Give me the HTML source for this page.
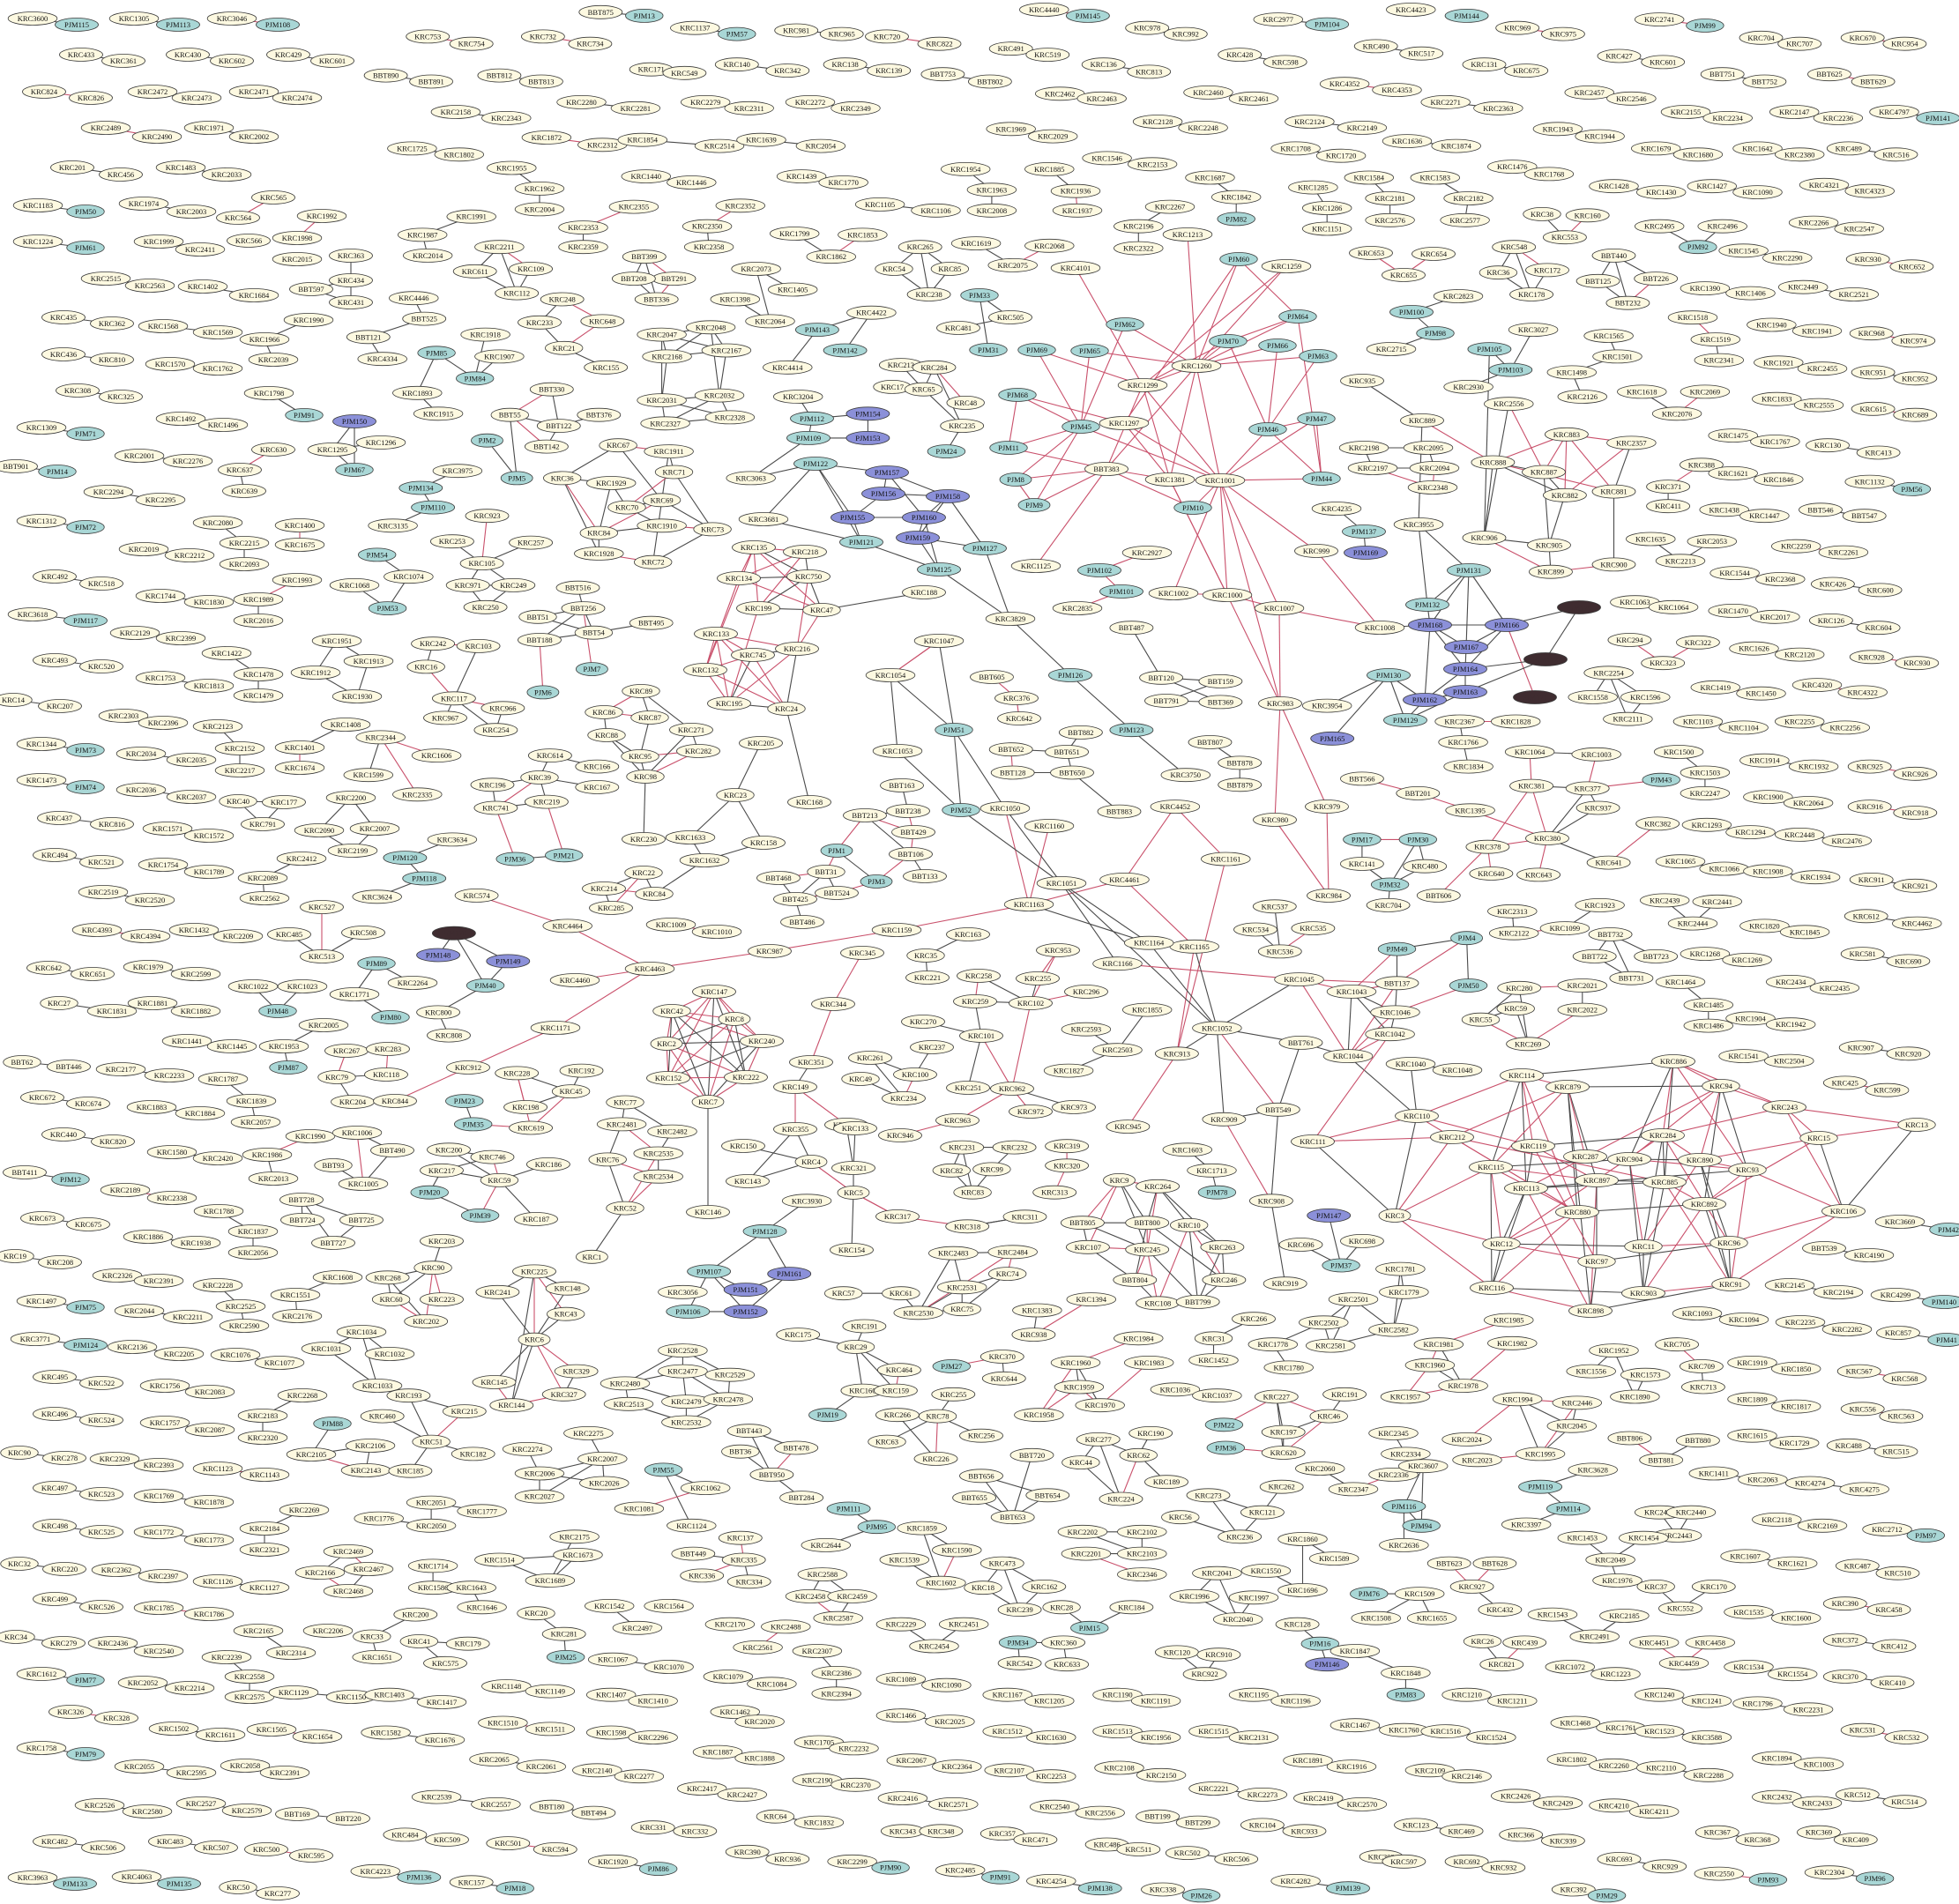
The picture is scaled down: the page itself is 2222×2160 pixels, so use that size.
<!DOCTYPE html>
<html>
<head>
<meta charset="utf-8">
<style>
html,body{margin:0;padding:0;background:#fff;}
svg{display:block;}
text{font-family:"Liberation Serif",serif;font-size:8.5px;fill:#111;}
</style>
</head>
<body>
<svg id="g" width="2222" height="2160" viewBox="0 0 2222 2160">
<rect width="2222" height="2160" fill="#ffffff"/>
<g id="edges"></g>
<g id="nodes"></g>
</svg>
<script>
// coordinate systems: [x0, sx, sy]
const SYS = {R:[0,1,1], B:[400,2.524,0.7245], C:[1010,2.524,0.7245], D:[1600,2.516,0.7245]};

// groups: [system, nodes [label,x,y,type], edge spec]
const groups = [
["R",[["KRC3600",37,21],["PJM115",87,28,"t"]],"0-1"],
["R",[["KRC1305",152,21],["PJM113",202,28,"t"]],"0-1"],
["R",[["KRC3046",263,21],["PJM108",315,28,"t"]],"0-1r"],
["R",[["KRC433",92,62],["KRC361",140,69]],"0-1"],
["R",[["KRC430",213,62],["KRC602",263,69]],"0-1"],
["R",[["KRC429",327,62],["KRC601",377,69]],"0-1"],
["R",[["KRC824",50,104],["KRC826",103,111]],"0-1r"],
["R",[["KRC2472",173,104],["KRC2473",223,111]],"0-1"],
["R",[["KRC2471",288,104],["KRC2474",337,111]],"0-1"],
["R",[["KRC2489",120,145],["KRC2490",178,155]],"0-1r"],
["R",[["KRC1971",237,145],["KRC2002",288,155]],"0-1"],
["R",[["KRC201",82,190],["KRC456",137,198]],"0-1"],
["R",[["KRC1483",205,190],["KRC2033",257,198]],"0-1"],
["R",[["KRC1183",43,233],["PJM50",97,240,"t"]],"0-1"],
["R",[["KRC1974",163,231],["KRC2003",217,240]],"0-1"],
["R",[["KRC565",310,224],["KRC564",270,247],["KRC566",282,273]],"0-1r"],
["R",[["KRC1224",43,274],["PJM61",97,281,"t"]],"0-1"],
["R",[["KRC1999",180,274],["KRC2411",227,283]],"0-1"],
["R",[["KRC1992",365,245],["KRC1998",337,270],["KRC2015",337,294]],"0-1r"],
["R",[["KRC2515",120,316],["KRC2563",170,324]],"0-1"],
["R",[["KRC1402",230,325],["KRC1684",288,335]],"0-1"],
["R",[["KRC363",398,290],["KRC434",398,318],["BBT597",353,328],["KRC431",398,343]],"0-1,1-2,2-3,1-3"],
["R",[["KRC435",72,360],["KRC362",127,367]],"0-1"],
["R",[["KRC1568",185,370],["KRC1569",247,377]],"0-1"],
["R",[["KRC1990",350,363],["KRC1966",300,385],["KRC2039",310,408]],"0-1,1-2"],
["R",[["KRC436",72,402],["KRC810",127,408]],"0-1"],
["R",[["KRC1570",193,413],["KRC1762",247,418]],"0-1"],
["R",[["KRC308",88,443],["KRC325",137,450]],"0-1"],
["R",[["KRC1798",305,446],["PJM91",345,471,"t"]],"0-1"],
["R",[["KRC1309",47,485],["PJM71",97,492,"t"]],"0-1"],
["R",[["KRC1492",205,475],["KRC1496",253,482]],"0-1"],
["R",[["BBT901",18,529],["PJM14",65,535,"t"]],"0-1"],
["R",[["KRC2001",158,517],["KRC2276",213,523]],"0-1"],
["R",[["KRC630",310,510],["KRC637",272,533],["KRC639",277,557]],"0-1r,1-2"],
["R",[["PJM150",402,478,"u"],["KRC1295",377,510],["KRC1296",432,502],["PJM67",402,533,"t"]],"0-1,0-3,1-2,1-3"],
["R",[["KRC2294",123,558],["KRC2295",182,567]],"0-1"],
["R",[["KRC1312",47,591],["PJM72",97,598,"t"]],"0-1"],
["R",[["KRC2080",247,593],["KRC2215",277,616],["KRC2093",277,640]],"0-1,1-2"],
["R",[["KRC1400",340,596],["KRC1675",340,618]],"0-1r"],
["R",[["KRC2019",163,623],["KRC2212",215,630]],"0-1"],
["R",[["KRC492",62,654],["KRC518",115,662]],"0-1"],
["R",[["KRC1744",182,676],["KRC1830",237,683]],"0-1"],
["R",[["KRC1993",337,658],["KRC1989",293,680],["KRC2016",293,704]],"0-1r,1-2"],
["R",[["KRC3618",37,697],["PJM117",97,704,"t"]],"0-1"],
["R",[["KRC2129",153,718],["KRC2399",205,724]],"0-1"],
["R",[["KRC493",62,749],["KRC520",115,756]],"0-1"],
["R",[["KRC1753",182,769],["KRC1813",237,778]],"0-1"],
["R",[["KRC1422",257,741],["KRC1478",293,765],["KRC1479",293,789]],"0-1,1-2"],
["R",[["KRC1951",382,727],["KRC1912",358,763],["KRC1913",418,750],["KRC1930",405,790]],"0-1,0-2,1-3,2-3"],
["R",[["KRC14",15,794],["KRC207",68,801]],"0-1"],
["R",[["KRC2303",140,812],["KRC2396",185,820]],"0-1"],
["R",[["KRC2123",247,824],["KRC2152",272,849],["KRC2217",272,874]],"0-1,1-2"],
["R",[["KRC1408",392,822],["KRC1401",340,848],["KRC1674",340,871]],"0-1,1-2r"],
["R",[["KRC1344",47,844],["PJM73",97,851,"t"]],"0-1"],
["R",[["KRC2034",160,855],["KRC2035",217,862]],"0-1"],
["R",[["KRC1473",47,885],["PJM74",97,893,"t"]],"0-1"],
["R",[["KRC2036",160,896],["KRC2037",217,904]],"0-1"],
["R",[["KRC40",270,909],["KRC177",322,910],["KRC791",298,935]],"0-1,0-2,1-2"],
["R",[["KRC2200",398,905],["KRC2090",362,942],["KRC2007",425,940],["KRC2199",400,965]],"0-1,0-2,1-3,2-3"],
["R",[["KRC437",67,928],["KRC816",127,935]],"0-1"],
["R",[["KRC1571",190,940],["KRC1572",237,948]],"0-1"],
["R",[["KRC494",62,970],["KRC521",115,978]],"0-1"],
["R",[["KRC1754",185,981],["KRC1789",237,989]],"0-1"],
["R",[["KRC2412",342,974],["KRC2089",298,996],["KRC2562",300,1019]],"0-1,1-2"],
["R",[["KRC2519",117,1012],["KRC2520",170,1021]],"0-1"],
["R",[["KRC527",365,1029],["KRC485",328,1060],["KRC513",365,1085],["KRC508",412,1058]],"0-2r,1-2,2-3"],
["R",[["KRC4393",110,1055],["KRC4394",165,1062]],"0-1r"],
["R",[["KRC1432",220,1055],["KRC2209",270,1062]],"0-1"],
["R",[["KRC642",55,1098],["KRC651",105,1105]],"0-1"],
["R",[["KRC1979",168,1097],["KRC2599",222,1105]],"0-1"],
["R",[["KRC1022",287,1119],["KRC1023",343,1119],["PJM48",315,1147,"t"]],"0-2,1-2"],
["R",[["PJM89",427,1093,"t"],["KRC2264",468,1115],["KRC1771",402,1128],["PJM80",443,1154,"t"]],"0-1,0-2,2-3"],
["R",[["KRC27",67,1138],["KRC1831",127,1147]],"0-1"],
["R",[["KRC1881",173,1138],["KRC1882",222,1147]],"0-1"],
["R",[["KRC2005",367,1163],["KRC1953",322,1187],["PJM87",327,1211,"t"]],"0-1,1-2"],
["R",[["KRC1441",212,1181],["KRC1445",263,1187]],"0-1"],
["R",[["KRC267",393,1192],["KRC283",440,1190],["KRC79",382,1222],["KRC118",438,1219],["KRC204",400,1250]],"0-1,0-2r,1-3r,2-3,2-4"],
["R",[["BBT62",25,1205],["BBT446",78,1210]],"0-1"],
["R",[["KRC2177",137,1213],["KRC2233",192,1220]],"0-1"],
["R",[["KRC1787",253,1224],["KRC1839",285,1249],["KRC2057",290,1273]],"0-1,1-2"],
["R",[["KRC672",48,1245],["KRC674",100,1252]],"0-1"],
["R",[["KRC1883",172,1256],["KRC1884",227,1263]],"0-1"],
["R",[["KRC440",72,1287],["KRC820",128,1295]],"0-1"],
["R",[["KRC1580",195,1307],["KRC2420",247,1314]],"0-1"],
["R",[["KRC1990",352,1289],["KRC1986",303,1310],["KRC2013",310,1337]],"0-1r,1-2"],
["R",[["KRC1006",405,1285],["BBT490",445,1305],["BBT93",378,1322],["KRC1005",412,1343]],"0-1,0-3r,2-3,1-3"],
["R",[["BBT411",28,1330],["PJM12",80,1338,"t"]],"0-1"],
["R",[["KRC2189",142,1350],["KRC2338",195,1359]],"0-1r"],
["R",[["KRC673",48,1382],["KRC675",100,1389]],"0-1"],
["R",[["KRC1788",248,1374],["KRC1837",287,1397],["KRC2056",287,1421]],"0-1,1-2"],
["R",[["BBT728",342,1361],["BBT724",343,1384],["BBT725",410,1384],["BBT727",378,1410]],"0-1,0-3,0-2,2-3"],
["R",[["KRC19",17,1425],["KRC208",68,1432]],"0-1"],
["R",[["KRC1886",168,1403],["KRC1938",222,1410]],"0-1"],
["R",[["KRC1497",47,1476],["PJM75",97,1483,"t"]],"0-1"],
["R",[["KRC2326",133,1447],["KRC2391",180,1453]],"0-1"],
["R",[["KRC2228",247,1458],["KRC2525",273,1482],["KRC2590",277,1504]],"0-1,1-2"],
["R",[["KRC1608",383,1449],["KRC1551",335,1469],["KRC2176",337,1493]],"0-1,1-2"],
["R",[["KRC2044",158,1487],["KRC2211",213,1494]],"0-1"],
["R",[["KRC1034",410,1511],["KRC1031",370,1530],["KRC1032",442,1536],["KRC1033",428,1572]],"0-1,0-2,0-3,1-3"],
["R",[["KRC3771",40,1519],["PJM124",97,1526,"t"]],"0-1"],
["R",[["KRC2136",150,1528],["KRC2205",203,1536]],"0-1"],
["R",[["KRC1076",267,1537],["KRC1077",317,1546]],"0-1"],
["R",[["KRC495",62,1562],["KRC522",115,1569]],"0-1"],
["R",[["KRC1756",187,1572],["KRC2083",238,1579]],"0-1"],
["R",[["KRC2268",343,1583],["KRC2183",298,1606],["KRC2320",298,1631]],"0-1,1-2"],
["R",[["KRC496",62,1604],["KRC524",115,1611]],"0-1"],
["R",[["KRC1757",187,1614],["KRC2087",238,1622]],"0-1"],
["R",[["PJM88",377,1615,"t"],["KRC2105",353,1650],["KRC2106",420,1640],["KRC2143",415,1668]],"0-1,1-2,1-3r,2-3"],
["R",[["KRC90",22,1648],["KRC278",73,1654]],"0-1"],
["R",[["KRC2329",130,1655],["KRC2393",180,1662]],"0-1"],
["R",[["KRC1123",247,1666],["KRC1143",300,1673]],"0-1r"],
["R",[["KRC497",62,1688],["KRC523",115,1695]],"0-1"],
["R",[["KRC1769",180,1697],["KRC1878",237,1704]],"0-1"],
["R",[["KRC2269",345,1713],["KRC2184",300,1734],["KRC2321",300,1758]],"0-1,1-2"],
["R",[["KRC498",62,1731],["KRC525",115,1738]],"0-1"],
["R",[["KRC1772",180,1738],["KRC1773",237,1747]],"0-1"],
["R",[["KRC2469",395,1760],["KRC2166",363,1784],["KRC2467",418,1780],["KRC2468",395,1805]],"0-1,0-2r,1-3r,2-3"],
["R",[["KRC32",22,1774],["KRC220",73,1780]],"0-1"],
["R",[["KRC2362",132,1781],["KRC2397",185,1788]],"0-1"],
["R",[["KRC1126",247,1794],["KRC1127",300,1801]],"0-1"],
["R",[["KRC499",62,1814],["KRC526",115,1823]],"0-1"],
["R",[["KRC1785",180,1824],["KRC1786",237,1831]],"0-1r"],
["R",[["KRC34",18,1857],["KRC279",72,1864]],"0-1"],
["R",[["KRC2436",128,1864],["KRC2540",180,1873]],"0-1"],
["R",[["KRC2165",293,1850],["KRC2314",330,1875]],"0-1"],
["R",[["KRC2206",372,1850]],""],
["R",[["KRC2239",257,1880],["KRC2558",283,1902],["KRC2575",283,1925]],"0-1,1-2"],
["R",[["KRC1612",47,1899],["PJM77",97,1906,"t"]],"0-1"],
["R",[["KRC2052",162,1909],["KRC2214",215,1915]],"0-1"],
["R",[["KRC1129",333,1920],["KRC1150",398,1925]],"0-1"],
["R",[["KRC326",80,1942],["KRC328",132,1949]],"0-1r"],
["R",[["KRC1502",197,1961],["KRC1611",250,1968]],"0-1"],
["R",[["KRC1505",308,1962],["KRC1654",360,1970]],"0-1r"],
["R",[["KRC1758",47,1983],["PJM79",97,1990,"t"]],"0-1"],
["R",[["KRC2055",158,2004],["KRC2595",217,2011]],"0-1"],
["R",[["KRC2058",278,2003],["KRC2391",323,2011]],"0-1"],
["R",[["KRC2526",113,2048],["KRC2580",167,2055]],"0-1"],
["R",[["KRC2527",228,2046],["KRC2579",280,2054]],"0-1"],
["R",[["BBT169",337,2058],["BBT220",395,2063]],"0-1"],
["R",[["KRC482",62,2089],["KRC506",117,2096]],"0-1"],
["R",[["KRC483",193,2089],["KRC507",245,2096]],"0-1"],
["R",[["KRC500",302,2098],["KRC595",353,2105]],"0-1r"],
["R",[["KRC3963",37,2130],["PJM133",85,2137,"t"]],"0-1"],
["R",[["KRC4063",155,2129],["PJM135",203,2137,"t"]],"0-1"],
["R",[["KRC50",270,2141],["KRC277",315,2148]],"0-1"],
["B",[["BBT875",710,10],["PJM13",835,13,"t"]],"0-1"],
["B",[["KRC753",215,30],["KRC754",340,36]],"0-1r"],
["B",[["KRC732",545,30],["KRC734",680,36]],"0-1r"],
["B",[["BBT890",95,62],["BBT891",225,67]],"0-1"],
["B",[["BBT812",420,62],["BBT813",540,67]],"0-1"],
["B",[["KRC2158",295,92],["KRC2343",440,97]],"0-1"],
["B",[["KRC1725",170,122],["KRC1802",305,127]],"0-1"],
["B",[["KRC1955",455,138],["KRC1962",535,155],["KRC2004",535,172]],"0-1,1-2"],
["B",[["KRC1991",340,178],["KRC1987",200,193],["KRC2014",215,210]],"0-1,1-2"],
["B",[["KRC2211",420,203],["KRC611",350,223],["KRC109",510,221],["KRC112",470,241]],"0-1,0-2r,1-3,0-3,2-3"],
["B",[["KRC4446",175,245],["BBT525",205,262],["BBT121",45,277],["KRC4334",85,295]],"0-1,1-2,2-3"],
["B",[["KRC1918",380,275],["PJM85",240,290,"t"],["KRC1907",420,293],["PJM84",350,311,"t"],["KRC1893",185,323],["KRC1915",245,340]],"0-3,2-3,1-3,1-4,4-5"],
["B",[["KRC248",600,246],["KRC233",535,265],["KRC648",715,264],["KRC21",605,286],["KRC155",725,302]],"0-1,0-2r,1-3,3-2r,3-4"],
["B",[["BBT330",570,320],["BBT55",450,341],["BBT122",590,350],["BBT376",705,341],["BBT142",555,367],["PJM2",385,362,"t"],["PJM5",470,393,"t"]],"0-1r,0-2,1-2,1-4r,2-3,4-2,1-6,5-6"],
["B",[["PJM134",195,401,"t"],["KRC3975",300,387],["PJM110",230,417,"t"],["KRC3135",115,432]],"0-1,0-2,2-3"],
["B",[["KRC67",760,366],["KRC36",600,393],["KRC1929",740,397],["KRC1911",905,371],["KRC71",920,388],["KRC70",785,417],["KRC69",885,411],["KRC84",705,438],["KRC1910",885,432],["KRC1928",705,455],["KRC73",1030,435],["KRC72",860,462]],"0-1,0-3r,0-6,1-2,1-7r,1-9,2-5,2-7,3-4,3-11,4-10,4-5r,5-6,5-8,6-7r,7-8,7-9,8-10r,9-11r,10-11,6-10"],
["B",[["KRC923",385,424],["KRC253",285,445],["KRC105",370,463],["KRC257",510,446],["KRC971",330,481],["KRC249",460,481],["KRC250",380,499]],"0-2r,1-2,2-3,2-4,2-5,4-6,5-6,4-5"],
["B",[["BBT516",645,483],["BBT256",660,500],["BBT51",530,507],["BBT54",690,520],["BBT188",535,526],["BBT495",855,512],["PJM6",545,569,"t"],["PJM7",685,550,"t"]],"0-1,1-2,1-3,1-4,2-3,3-4,3-5,4-6r,1-7r"],
["B",[["KRC242",230,529],["KRC103",360,531],["KRC16",210,548],["KRC117",290,574],["KRC966",430,582],["KRC967",265,590],["KRC254",410,600]],"0-1r,0-2,1-3,2-3r,3-4r,3-5,3-6,4-6"],
["B",[["PJM54",70,456,"t"],["KRC1074",160,474],["KRC1068",5,481],["PJM53",100,500,"t"]],"0-1,1-3,2-3"],
["B",[["KRC2344",80,606],["KRC1606",240,621],["KRC1599",45,637],["KRC2335",185,653]],"0-1r,0-3r,0-2"],
["B",[["KRC614",565,621],["KRC166",700,630],["KRC196",400,645],["KRC39",535,639],["KRC167",700,647],["KRC741",410,664],["KRC219",555,659],["PJM36",465,706,"t"],["PJM21",605,703,"t"]],"0-1,0-3,3-4,2-3,3-5r,5-6,3-6,5-7r,6-8r,2-5,7-8"],
["B",[["KRC3634",285,690],["PJM120",150,705,"t"],["PJM118",205,722,"t"],["KRC3624",70,737]],"0-1,1-2,2-3"],
["R",[["KRC89",727,784],["KRC86",685,808],["KRC87",737,814],["KRC271",784,828],["KRC88",688,834],["KRC282",792,852],["KRC95",726,858],["KRC98",732,881],["KRC230",730,952]],"0-1r,0-2,0-3,1-4,1-2r,2-6,4-6,4-7,3-5,6-5r,7-5r,6-7,7-3,7-8"],
["R",[["KRC135",855,621],["KRC218",913,626],["KRC134",838,656],["KRC750",917,654],["KRC199",860,690],["KRC47",932,692],["KRC133",812,719],["KRC745",854,743],["KRC216",904,736],["KRC132",800,760],["KRC195",827,798],["KRC24",892,804],["KRC188",1048,672],["KRC168",918,910]],"0-1r,0-2r,0-3,0-4r,0-5r,1-2r,1-3,1-4r,2-3,2-5r,3-4,4-5,3-5,3-8r,5-8r,6-7r,6-9r,6-10r,6-8r,7-8k,7-9r,7-11r,8-10r,8-11,9-10r,9-11r,10-11,0-9r,2-9r,4-10r,5-12,11-13,7-10,6-11r"],
["R",[["KRC205",863,843],["KRC23",834,902],["KRC158",866,956],["KRC1633",783,950],["KRC1632",799,976],["KRC22",730,990],["KRC214",685,1008],["KRC84",742,1014],["KRC285",693,1030]],"0-1,1-3,1-2,2-4,3-4,4-7,5-7,5-8r,6-7r,6-8,5-6"],
["R",[["KRC1009",761,1049],["KRC1010",813,1057]],"0-1r"],
["B",[["KRC574",355,736],["KRC4464",615,761]],"0-1r"],
["R",[["KRC4463",737,1099],["KRC4460",652,1112],["KRC987",873,1079],["KRC1171",630,1166],["KRC912",531,1211],["KRC844",448,1249],["KRC1159",1017,1055]],"0-1r,0-2r,0-3r,3-4r,4-5r,2-6r"],
["B",[["PJM170",290,767,"d"],["PJM148",245,785,"u"],["PJM149",445,790,"u"],["PJM40",380,810,"t"],["KRC800",245,832],["KRC808",275,851]],"0-1,0-2,0-3,3-4,4-5,2-3"],
["R",[["KRC147",810,1125],["KRC42",762,1147],["KRC8",833,1156],["KRC2",756,1184],["KRC240",864,1181],["KRC152",758,1223],["KRC222",846,1222],["KRC7",803,1250],["KRC146",803,1375]],"0-1r,0-2r,0-3r,0-4r,0-5r,0-6,0-7,1-2r,1-3r,1-4r,1-5,1-6,1-7,2-3,2-4r,2-5r,2-6,2-7r,3-4,3-5r,3-6r,3-7r,4-5,4-6r,4-7,5-6r,5-7r,6-7r,7-8"],
["B",[["KRC228",470,882],["KRC192",655,880],["KRC45",625,897],["KRC198",495,910],["KRC619",510,927],["PJM23",320,905,"t"],["PJM35",345,924,"t"]],"0-3r,0-4r,0-2,3-2,4-2r,1-2,5-6,6-4r"],
["B",[["KRC200",275,945],["KRC746",400,951],["KRC217",255,962],["KRC59",420,970],["KRC186",560,957],["PJM20",220,980,"t"],["PJM39",365,999,"t"],["KRC187",525,1002]],"0-1,0-3,1-2,1-3r,2-3,3-4,3-6r,5-6,3-7,2-5"],
["B",[["KRC77",780,906],["KRC2481",770,924],["KRC2482",915,930],["KRC76",730,953],["KRC2535",875,948],["KRC2534",875,967],["KRC52",780,993],["KRC1",685,1033]],"0-1,0-2,1-3,1-4r,3-5r,3-6,4-5,5-6r,4-6r,6-7,2-4"],
["B",[["KRC203",255,1020],["KRC268",100,1050],["KRC90",230,1042],["KRC60",110,1068],["KRC223",255,1068],["KRC202",210,1086]],"0-2,1-2,1-3,2-3,2-4r,2-5r,3-5r,1-5"],
["B",[["KRC225",520,1045],["KRC241",415,1062],["KRC148",615,1059],["KRC43",610,1080],["KRC6",520,1101],["KRC329",640,1127],["KRC145",405,1136],["KRC327",605,1146],["KRC144",455,1155]],"0-1,0-2,0-4r,0-3r,1-4,2-4,3-4,4-5r,4-6,4-7r,4-8,5-7,6-8r,8-7r,0-8"],
["B",[["KRC193",160,1147],["KRC215",320,1160],["KRC460",85,1164],["KRC51",225,1185],["KRC182",345,1195],["KRC185",165,1209]],"0-1,0-3,1-3r,2-3,3-4,3-5"],
["B",[["KRC2051",225,1235],["KRC1776",75,1248],["KRC2050",225,1254],["KRC1777",370,1242]],"0-2,1-2,0-3"],
["B",[["KRC2528",945,1110],["KRC2480",780,1137],["KRC2477",945,1127],["KRC2529",1080,1130],["KRC2513",790,1154],["KRC2479",955,1152],["KRC2478",1075,1150],["KRC2532",955,1169]],"0-2,0-3,1-2,1-4,1-5,2-5,2-6,3-6,4-7,5-7,6-7,1-0"],
["B",[["KRC2275",675,1178],["KRC2274",500,1191],["KRC2007",715,1199],["KRC2006",535,1211],["KRC2026",720,1219],["KRC2027",535,1230]],"0-2,1-3,2-3,2-4,2-5,3-5,3-4"],
["B",[["BBT443",1135,1176],["BBT478",1270,1190],["BBT36",1110,1193],["BBT950",1200,1212],["BBT284",1285,1231]],"0-1,0-3,1-3r,2-3,3-4"],
["B",[["PJM55",890,1208,"t"],["KRC1062",1010,1223],["KRC1081",820,1240],["KRC1124",970,1254]],"0-1,0-3,1-2r"],
["B",[["KRC2175",635,1263],["KRC1514",420,1282],["KRC1673",645,1278],["KRC1689",565,1299]],"0-3,1-3,2-3,1-2"],
["B",[["KRC1714",230,1287],["KRC1586",230,1305],["KRC1643",340,1305],["KRC1646",370,1321]],"0-1,1-2,2-3"],
["B",[["KRC137",1110,1264],["BBT449",975,1277],["KRC335",1120,1282],["KRC336",1000,1295],["KRC334",1135,1300]],"0-2r,1-2,2-3r,2-4"],
["B",[["KRC2588",1345,1294],["KRC2458",1310,1312],["KRC2459",1430,1312],["KRC2587",1390,1330]],"0-1,0-2,1-3r,2-3,1-2r"],
["B",[["KRC200",180,1327],["KRC33",55,1345],["KRC1651",70,1362]],"0-1,1-2"],
["B",[["KRC41",190,1349],["KRC179",330,1351],["KRC575",265,1367]],"0-1,0-2"],
["B",[["KRC20",525,1326],["KRC281",605,1343],["PJM25",610,1362,"t"]],"0-1,1-2"],
["B",[["KRC1542",735,1320],["KRC2497",815,1338]],"0-1"],
["B",[["KRC1564",905,1320]],""],
["B",[["KRC2170",1080,1335],["KRC2488",1240,1337],["KRC2561",1160,1354]],"1-2r"],
["B",[["KRC1067",745,1364],["KRC1070",905,1370]],"0-1"],
["B",[["KRC2307",1330,1357],["KRC2386",1385,1375],["KRC2394",1385,1392]],"0-1,1-2"],
["B",[["KRC1403",105,1393],["KRC1417",255,1399]],"0-1"],
["B",[["KRC1148",440,1386],["KRC1149",565,1390]],"0-1"],
["B",[["KRC1407",740,1393],["KRC1410",860,1398]],"0-1"],
["B",[["KRC1079",1075,1378],["KRC1084",1200,1384]],"0-1"],
["B",[["KRC1582",95,1424],["KRC1676",250,1430]],"0-1"],
["B",[["KRC1510",430,1416],["KRC1511",565,1421]],"0-1r"],
["B",[["KRC1598",740,1424],["KRC2296",860,1428]],"0-1"],
["B",[["KRC1462",1095,1407],["KRC2020",1165,1415]],"0-1"],
["B",[["KRC1705",1335,1432],["KRC2232",1435,1437]],"0-1"],
["B",[["KRC2065",405,1446],["KRC2061",540,1452]],"0-1"],
["B",[["KRC2140",700,1455],["KRC2277",820,1460]],"0-1"],
["B",[["KRC1887",1045,1440],["KRC1888",1165,1445]],"0-1"],
["B",[["KRC2190",1330,1463],["KRC2370",1440,1467]],"0-1"],
["B",[["KRC2539",240,1477],["KRC2557",410,1483]],"0-1"],
["B",[["BBT180",570,1485],["BBT494",690,1490]],"0-1"],
["B",[["KRC2417",1000,1470],["KRC2427",1115,1475]],"0-1"],
["B",[["KRC484",150,1508],["KRC509",270,1512]],"0-1"],
["B",[["KRC501",445,1515],["KRC594",580,1520]],"0-1r"],
["B",[["KRC331",860,1502],["KRC332",980,1505]],"0-1"],
["B",[["KRC64",1210,1493],["KRC1832",1335,1498]],"0-1"],
["B",[["KRC4223",65,1538],["PJM136",190,1543,"t"]],"0-1"],
["B",[["KRC157",340,1547],["PJM18",465,1552,"t"]],"0-1"],
["B",[["KRC1920",745,1530],["PJM86",875,1536,"t"]],"0-1"],
["B",[["KRC390",1130,1522],["KRC936",1245,1528]],"0-1"],
["B",[["KRC2299",1430,1530],["PJM90",1540,1535,"t"]],"0-1"],
["B",[["KRC1137",980,23],["PJM57",1100,28,"t"]],"0-1"],
["B",[["KRC981",1270,25],["KRC965",1400,28]],"0-1"],
["B",[["KRC171",855,57],["KRC549",950,60]],"0-1"],
["B",[["KRC140",1100,53],["KRC342",1245,58]],"0-1"],
["B",[["KRC138",1410,53],["KRC139",1535,58]],"0-1"],
["B",[["KRC2280",655,84],["KRC2281",810,89]],"0-1"],
["B",[["KRC2279",1010,84],["KRC2311",1135,89]],"0-1"],
["B",[["KRC2272",1310,84],["KRC2349",1440,89]],"0-1"],
["B",[["KRC1872",555,113],["KRC2312",715,119]],"0-1r"],
["B",[["KRC1854",830,115],["KRC2514",1050,120]],"0-1"],
["B",[["KRC1639",1170,115],["KRC2054",1340,120]],"0-1"],
["B",[["KRC1440",840,145],["KRC1446",970,150]],"0-1"],
["B",[["KRC1439",1285,145],["KRC1770",1405,150]],"0-1"],
["B",[["KRC2355",805,170],["KRC2353",660,187],["KRC2359",660,203]],"0-1r,1-2"],
["B",[["KRC2352",1110,169],["KRC2350",1015,186],["KRC2358",1020,203]],"0-1r,1-2"],
["B",[["KRC1799",1265,192],["KRC1862",1370,211],["KRC1853",1460,193]],"0-1,1-2r"],
["B",[["BBT399",835,211],["BBT291",920,229],["BBT208",805,229],["BBT336",870,246]],"0-1r,0-2,0-3,1-3r,2-3"],
["B",[["KRC2073",1155,221],["KRC1405",1260,238],["KRC1398",1095,246],["KRC2064",1195,264]],"0-1,0-3,2-3"],
["B",[["KRC2047",885,275],["KRC2048",1025,269],["KRC2168",900,293],["KRC2167",1070,288],["KRC2031",885,329],["KRC2032",1050,325],["KRC2327",895,348],["KRC2328",1080,343]],"0-1,0-2,0-3,1-2,1-3,2-3,0-4,2-4,3-5,1-5,4-5,4-6,5-7,6-7,4-7,5-6"],
["B",[["PJM143",1330,271,"t"],["KRC4422",1485,257],["PJM142",1410,288,"t"],["KRC4414",1245,302]],"0-1,1-2,0-3"],
["B",[["KRC3204",1275,326],["PJM112",1315,344,"t"],["PJM109",1305,360,"t"],["PJM154",1475,340,"u"],["PJM153",1475,360,"u"],["KRC3063",1140,393]],"0-1,1-2,1-3,2-4,3-4,2-5"],
["R",[["PJM122",925,526,"t"],["KRC3681",866,589],["PJM121",977,615,"t"],["PJM157",1006,536,"u"],["PJM156",1002,560,"u"],["PJM155",967,587,"u"],["PJM158",1075,563,"u"],["PJM160",1048,587,"u"],["PJM159",1041,610,"u"],["PJM125",1065,646,"t"],["PJM127",1117,622,"t"],["KRC3829",1146,702]],"0-1,0-3,0-5,0-2,3-6,3-4,4-5,5-7,5-2,6-7,6-8,7-8,8-9,2-9,7-9,6-10,8-10,10-11,9-11,4-6,3-7"],
["R",[["KRC345",978,1081],["KRC344",945,1139],["KRC351",920,1205],["KRC149",902,1233],["KRC355",902,1281],["KRC153",960,1276],["KRC4",920,1318],["KRC133",970,1280],["KRC321",968,1325],["KRC150",843,1300],["KRC143",848,1340],["KRC5",968,1353],["KRC154",966,1418],["KRC317",1018,1380]],"0-1r,1-2r,2-3,3-4r,3-5r,4-6,6-9,6-10,6-11r,5-8,8-11,11-12,11-13r,7-8,4-10"],
["B",[["KRC175",1275,1097],["KRC191",1465,1090],["KRC29",1440,1107],["KRC160",1460,1143],["PJM19",1360,1163,"t"]],"0-2,1-2,2-3,3-4"],
["B",[["PJM111",1420,1240,"t"],["PJM95",1500,1255,"t"],["KRC2644",1355,1270]],"0-1,1-2"],
["B",[["PJM128",1180,1012,"t"],["KRC3930",1300,987],["PJM107",1020,1045,"t"],["PJM151",1125,1060,"u"],["PJM161",1250,1047,"u"],["PJM106",960,1078,"t"],["PJM152",1125,1078,"u"],["KRC3056",945,1062]],"0-1,0-2,0-4,2-5,2-6,3-4,5-6,4-6,2-3"],
["B",[["KRC57",1405,1063]],""],
["C",[["KRC4440",440,8],["PJM145",565,13,"t"]],"0-1r"],
["C",[["KRC978",735,23],["KRC992",845,28]],"0-1"],
["C",[["KRC2977",1110,16],["PJM104",1250,20,"t"]],"0-1"],
["C",[["KRC491",345,40],["KRC519",450,45]],"0-1"],
["C",[["KRC136",610,53],["KRC813",740,59]],"0-1"],
["C",[["KRC428",1000,45],["KRC598",1130,51]],"0-1"],
["C",[["KRC4423",1490,8]],""],
["C",[["BBT753",150,61],["BBT802",285,67]],"0-1"],
["C",[["KRC2462",485,77],["KRC2463",605,81]],"0-1"],
["C",[["KRC2460",910,76],["KRC2461",1040,81]],"0-1"],
["C",[["KRC4352",1300,69],["KRC4353",1450,74]],"0-1r"],
["C",[["KRC490",1390,38],["KRC517",1520,44]],"0-1"],
["C",[["KRC720",-10,30],["KRC822",140,36]],"0-1r"],
["C",[["KRC1969",345,106],["KRC2029",465,112]],"0-1"],
["C",[["KRC2128",765,100],["KRC2248",895,105]],"0-1"],
["C",[["KRC2124",1200,100],["KRC2149",1350,105]],"0-1"],
["C",[["KRC1954",215,139],["KRC1963",290,156],["KRC2008",290,173]],"0-1,1-2"],
["C",[["KRC1885",455,139],["KRC1936",530,157],["KRC1937",535,173]],"0-1,1-2r"],
["C",[["KRC1546",620,130],["KRC2153",750,135]],"0-1"],
["C",[["KRC1708",1160,122],["KRC1720",1290,128]],"0-1"],
["C",[["KRC1687",915,146],["KRC1842",990,162],["PJM82",990,180,"t"]],"0-1,1-2"],
["C",[["KRC2267",800,170],["KRC2196",710,186],["KRC2322",710,204]],"0-1,1-2"],
["C",[["KRC1285",1210,154],["KRC1286",1250,171],["KRC1151",1250,188]],"0-1,1-2"],
["C",[["KRC1584",1370,146],["KRC2181",1430,163],["KRC2576",1430,181]],"0-1,1-2"],
["C",[["KRC1105",-30,168],["KRC1106",130,173]],"0-1"],
["C",[["KRC1619",245,200],["KRC2075",350,218],["KRC2068",455,202]],"0-1,1-2r"],
["C",[["KRC265",85,203],["KRC54",10,221],["KRC85",170,221],["KRC238",110,242]],"0-1,0-2,0-3,1-3,2-3"],
["R",[["PJM33",1111,335,"t"],["KRC505",1146,360],["KRC481",1087,372],["PJM31",1121,397,"t"]],"0-1,0-3,2-1"],
["C",[["KRC213",30,300],["KRC284",125,302],["KRC17",5,318],["KRC65",95,320],["KRC48",215,331],["KRC235",205,350],["PJM24",160,371,"t"]],"0-1,0-3,1-3,2-3,1-4r,1-5,3-5,5-6"],
["R",[["KRC1213",1347,266],["PJM60",1405,294,"t"],["KRC1259",1459,302],["KRC4101",1220,304],["PJM62",1276,368,"t"],["PJM64",1472,359,"t"],["PJM70",1393,387,"t"],["PJM66",1449,392,"t"],["PJM63",1495,404,"t"],["PJM69",1176,397,"t"],["PJM65",1236,398,"t"],["KRC1260",1357,415],["KRC1299",1296,437],["PJM68",1154,448,"t"],["PJM45",1226,484,"t"],["KRC1297",1275,480],["PJM46",1438,487,"t"],["PJM47",1493,475,"t"],["PJM11",1144,508,"t"],["BBT383",1255,532],["KRC1381",1327,544],["KRC1001",1384,545],["PJM44",1499,543,"t"],["PJM8",1152,544,"t"],["PJM9",1173,573,"t"],["PJM10",1353,576,"t"],["KRC1125",1175,642],["KRC999",1493,625],["KRC1002",1331,673],["KRC1000",1392,675],["KRC1007",1451,690],["KRC1008",1565,712]],
 "0-11r,1-11r,2-11r,4-11r,6-11r,7-11r,8-11r,5-11r,10-11r,11-12r,11-19r,11-20r,11-21r,1-5r,1-15r,2-12r,3-12r,4-14r,9-14r,9-12r,10-14r,13-14r,13-15r,13-18r,5-6r,5-22r,6-16r,6-12r,7-16r,8-16r,12-19r,12-20r,12-21r,15-20r,15-21r,14-18r,14-23r,14-24r,14-21r,18-19r,23-19r,23-24r,24-19r,19-20r,19-25r,19-26r,20-21r,20-29r,16-17r,16-22r,16-21r,17-21r,17-22r,21-22r,21-25r,21-28r,21-29r,21-30r,21-27r,28-29r,29-30r,30-31r,27-31r"],
["R",[["KRC983",1452,798],["KRC980",1446,930],["KRC979",1505,915],["KRC984",1507,1016]],"0-1r,0-2r,2-3r,1-3r"],
["R",[["KRC4235",1516,577],["PJM137",1547,603,"t"],["PJM169",1549,627,"u"]],"0-1,1-2"],
["R",[["PJM102",1247,647,"t"],["KRC2927",1301,627],["PJM101",1272,671,"t"],["KRC2835",1222,690]],"0-1r,0-2r,2-3r"],
["C",[["BBT487",690,516],["BBT120",775,557],["BBT159",945,560],["BBT791",790,576],["BBT369",945,577]],"0-1,1-2,1-4,3-2,3-4"],
["R",[["KRC1047",1065,727],["KRC1054",1010,766],["PJM51",1082,828,"t"],["KRC1053",1018,852],["PJM52",1090,919,"t"],["KRC1050",1140,917],["KRC1160",1190,937],["KRC1163",1167,1026],["KRC1051",1204,1002]],"0-1r,0-2,1-2,1-3,3-4,2-4,2-5,5-7r,6-7r,5-8,4-8"],
["C",[["PJM126",515,555,"t"],["PJM123",690,600,"t"],["KRC3750",845,637]],"0-1,1-2"],
["R",[["BBT605",1125,768],["KRC376",1153,792],["KRC642",1156,815]],"0-1r,1-2r"],
["C",[["BBT652",345,616],["BBT651",505,618],["BBT882",545,602],["BBT128",350,635],["BBT650",520,635],["BBT883",655,667]],"0-1,1-2,1-4,3-4,4-5,0-3r"],
["C",[["BBT807",915,610],["BBT878",1000,627],["BBT879",1000,645]],"0-1,1-2"],
["C",[["KRC4452",815,663],["KRC4461",670,723],["KRC1161",960,706],["KRC1165",870,778],["KRC1164",740,775],["KRC1166",650,792],["KRC913",820,866],["KRC945",680,926]],"0-1r,0-2r,1-3r,2-6r,3-6r,6-7r,4-3"],
["R",[["BBT163",1023,891],["BBT213",981,925],["BBT238",1030,920],["BBT429",1036,944],["PJM1",949,965,"t"],["BBT106",1033,969],["BBT31",937,989],["PJM3",994,1000,"t"],["BBT133",1049,994],["BBT468",883,996],["BBT524",949,1013],["BBT425",902,1020],["BBT486",910,1046]],"0-2,1-2,1-3r,2-3r,1-4r,1-5,3-5r,5-7r,5-8,4-6r,4-7,6-9r,6-10,6-11,9-11,10-11r,10-7r,11-12"],
["R",[["KRC163",1098,1060],["KRC35",1050,1084],["KRC221",1052,1109]],"0-1,1-2"],
["R",[["KRC258",1110,1107],["KRC259",1106,1136],["KRC953",1200,1078],["KRC255",1177,1110],["KRC102",1169,1138],["KRC296",1232,1125],["KRC270",1047,1159],["KRC101",1113,1175],["KRC237",1057,1188],["KRC261",987,1200],["KRC49",976,1224],["KRC100",1038,1219],["KRC234",1025,1246],["KRC251",1098,1234],["KRC962",1148,1235],["KRC972",1169,1261],["KRC973",1218,1256],["KRC963",1086,1271],["KRC946",1021,1288]],"0-1r,1-4,0-4,2-3r,2-4r,3-4,4-5r,1-7,6-7,7-13,7-14r,4-14r,8-11,9-11,9-12,10-12,11-12r,13-14,14-15r,14-16,14-17r,17-18r"],
["C",[["KRC1855",735,830],["KRC2593",560,846],["KRC2503",650,863],["KRC1827",510,880]],"0-2,1-2,2-3"],
["C",[["KRC231",205,943],["KRC232",355,943],["KRC82",175,962],["KRC99",290,961],["KRC83",235,980]],"0-1,0-2,0-4,1-3,3-4,2-4"],
["C",[["KRC319",505,942],["KRC320",505,958],["KRC313",470,980]],"0-1r,1-2r"],
["C",[["KRC318",220,1008],["KRC311",385,1000]],"0-1"],
["C",[["KRC2483",180,1030],["KRC2484",350,1029],["KRC61",30,1063],["KRC2531",205,1058],["KRC74",335,1047],["KRC2530",80,1079],["KRC75",205,1076]],"0-1,1-4r,0-3,3-4,3-5,3-6,5-6,2-5,0-5,1-5r,4-6"],
["C",[["KRC9",655,970],["KRC264",765,975],["BBT805",550,1005],["BBT800",735,1005],["KRC10",855,1007],["KRC107",565,1025],["KRC245",735,1027],["KRC263",950,1025],["BBT804",700,1052],["KRC246",955,1052],["KRC108",765,1071],["BBT799",880,1070]],"0-1r,0-2r,0-3,0-5r,0-6,1-3,1-4,1-6r,2-5,2-6,3-6r,3-8,4-7,4-9r,4-10r,4-11,5-6r,5-8,6-8r,6-10r,7-9,7-11,8-10,9-11,10-11,2-3,6-11,3-9,1-7"],
["C",[["KRC1603",850,945],["KRC1713",920,962],["PJM78",935,980,"t"]],"0-1,1-2"],
["C",[["KRC1045",1170,805],["KRC1043",1320,815],["BBT137",1450,808],["KRC1046",1445,832],["KRC1042",1430,850],["KRC1052",935,845],["BBT761",1175,857],["KRC1044",1310,868],["BBT549",1110,912],["KRC909",955,920],["KRC908",1090,987],["KRC919",1130,1055]],"0-1r,0-7r,0-5,0-2r,1-3,1-4,1-7,2-3,2-7r,3-4,7-4r,6-7,5-6,5-9,5-8r,6-8,8-10,9-8,9-10r,10-11,1-2r,3-7r"],
["C",[["KRC537",1100,745],["KRC534",1045,764],["KRC535",1210,763],["KRC536",1115,782]],"0-3,1-3,2-3r"],
["C",[["PJM17",1350,690,"t"],["PJM30",1510,690,"t"],["KRC141",1350,710],["PJM32",1430,727,"t"],["KRC704",1425,744],["KRC480",1530,712]],"0-1r,0-2,2-3,3-1,3-4,3-5,1-5"],
["C",[["PJM147",1255,999,"u"],["KRC696",1175,1023],["KRC698",1350,1020],["PJM37",1290,1040,"t"]],"0-3,1-3,2-3"],
["C",[["KRC1781",1460,1043],["KRC1779",1470,1062],["KRC2501",1325,1068],["KRC2502",1240,1087],["KRC2582",1440,1093],["KRC1778",1095,1105],["KRC2581",1260,1106],["KRC1780",1140,1124]],"0-1,0-4,1-4,2-4,3-5,3-6,2-3,5-7,6-4,2-6"],
["C",[["KRC266",1040,1084],["KRC31",925,1100],["KRC1452",925,1118]],"0-1,1-2"],
["C",[["KRC1383",420,1077],["KRC938",410,1097],["KRC1394",575,1068]],"0-1,1-2r"],
["C",[["PJM27",175,1123,"t"],["KRC370",320,1115],["KRC644",325,1133]],"0-1r,1-2"],
["C",[["KRC1984",710,1100],["KRC1960",530,1120],["KRC1983",740,1120],["KRC1959",540,1140],["KRC1958",425,1163],["KRC1970",600,1155]],"0-1r,1-3,1-4r,3-4r,3-5r,2-5r,1-5"],
["C",[["KRC1036",815,1142],["KRC1037",935,1147]],"0-1"],
["C",[["KRC227",1105,1148],["KRC191",1300,1146],["KRC197",1125,1177],["KRC46",1255,1164],["PJM22",955,1171,"t"],["PJM36",960,1190,"t"],["KRC620",1125,1194]],"0-2,0-3r,0-4r,0-6,2-3,3-6r,5-6r,2-6,1-3"],
["C",[["KRC2060",1230,1207],["KRC2336",1440,1212],["KRC2347",1325,1224]],"0-2,1-2r"],
["C",[["KRC2345",1440,1178],["KRC2334",1475,1195]],"0-1"],
["C",[["KRC277",595,1183],["KRC44",545,1202],["KRC62",710,1196],["KRC190",745,1178],["KRC224",660,1232],["KRC189",790,1218]],"0-1,0-2,1-4,2-4r,2-3,2-5,0-4"],
["C",[["BBT720",405,1196],["BBT656",260,1213],["BBT655",240,1231],["BBT654",450,1229],["BBT653",350,1247]],"0-4,1-4,2-4,3-4,1-3"],
["C",[["KRC2202",550,1259],["KRC2102",720,1259],["KRC2201",560,1277],["KRC2103",720,1277],["KRC2346",720,1294]],"0-1,0-3,2-3,2-4r,1-3"],
["C",[["KRC273",910,1229],["KRC56",830,1247],["KRC121",1065,1243],["KRC236",1000,1263],["KRC262",1120,1222]],"0-2,0-3,1-3,2-3,2-4"],
["C",[["KRC1859",90,1256],["KRC1590",190,1274],["KRC1539",40,1282],["KRC1602",145,1301]],"0-1,0-3,2-3,1-3r"],
["C",[["KRC473",320,1285],["KRC18",265,1305],["KRC162",440,1304],["KRC239",370,1323]],"0-1,0-3,0-2,1-3,2-3"],
["C",[["KRC2041",935,1293],["KRC1996",870,1312],["KRC1997",1040,1313],["KRC2040",995,1331]],"0-1,0-3,1-3,2-3"],
["C",[["KRC1860",1180,1265],["KRC1589",1270,1281],["KRC1550",1075,1291],["KRC1696",1180,1307]],"0-1,0-3,2-3"],
["C",[["KRC28",490,1321],["PJM15",570,1338,"t"],["KRC184",690,1321]],"0-1,1-2"],
["C",[["KRC128",1165,1335],["PJM16",1230,1351,"t"],["PJM146",1250,1368,"u"]],"0-1,1-2"],
["C",[["KRC2229",30,1335],["KRC2454",125,1353],["KRC2451",210,1335]],"0-1,1-2"],
["C",[["PJM34",365,1350,"t"],["KRC360",495,1350],["KRC542",370,1367],["KRC633",505,1368]],"0-1,0-2,1-3"],
["C",[["KRC120",820,1358],["KRC910",940,1360],["KRC922",900,1376]],"0-2,1-2"],
["C",[["KRC255",180,1146],["KRC78",135,1164],["KRC256",260,1180],["KRC226",130,1199],["KRC266",20,1163],["KRC63",-10,1185],["KRC464",25,1126],["KRC159",15,1143]],"0-1,1-2,1-3r,1-4,1-5,3-4,6-7r"],
["C",[["KRC1089",30,1380],["KRC1090",160,1385]],"0-1"],
["C",[["KRC1167",335,1393],["KRC1205",455,1398]],"0-1"],
["C",[["KRC1190",650,1393],["KRC1191",760,1398]],"0-1"],
["C",[["KRC1195",1040,1393],["KRC1196",1160,1398]],"0-1"],
["C",[["KRC1466",30,1410],["KRC2025",170,1415]],"0-1"],
["C",[["KRC1512",335,1423],["KRC1630",460,1428]],"0-1"],
["C",[["KRC1513",650,1423],["KRC1956",760,1428]],"0-1"],
["C",[["KRC1515",925,1423],["KRC2131",1040,1428]],"0-1"],
["C",[["KRC2067",60,1447],["KRC2364",190,1452]],"0-1"],
["C",[["KRC2107",340,1455],["KRC2253",460,1460]],"0-1"],
["C",[["KRC2108",655,1453],["KRC2150",775,1459]],"0-1"],
["C",[["KRC2221",925,1470],["KRC2273",1065,1475]],"0-1"],
["C",[["KRC1891",1195,1447],["KRC1916",1320,1452]],"0-1"],
["C",[["KRC2416",35,1478],["KRC2571",180,1483]],"0-1"],
["C",[["KRC2540",470,1485],["KRC2556",600,1490]],"0-1"],
["C",[["BBT199",765,1493],["BBT299",880,1498]],"0-1"],
["C",[["KRC2419",1225,1478],["KRC2570",1350,1483]],"0-1"],
["C",[["KRC343",35,1505],["KRC348",145,1505]],"0-1"],
["C",[["KRC357",320,1507],["KRC471",415,1512]],"0-1"],
["C",[["KRC486",620,1516],["KRC511",710,1520]],"0-1"],
["C",[["KRC104",1065,1500],["KRC933",1185,1505]],"0-1"],
["C",[["KRC2485",200,1537],["PJM91",315,1543,"t"]],"0-1"],
["C",[["KRC4254",460,1546],["PJM138",600,1552,"t"]],"0-1"],
["C",[["KRC338",780,1553],["PJM26",890,1558,"t"]],"0-1"],
["C",[["KRC502",850,1523],["KRC506",990,1528]],"0-1"],
["C",[["KRC4282",1160,1546],["PJM139",1310,1552,"t"]],"0-1"],
["C",[["KRC303",1405,1526],["KRC597",1470,1530]],"0-1"],
["C",[["BBT566",1350,640],["BBT201",1510,652]],"0-1r"],
["C",[["KRC3954",1250,580],["PJM165",1265,607,"u"]],""],
["R",[["KRC3955",1609,595],["PJM131",1666,647,"t"],["PJM132",1619,686,"t"],["PJM168",1622,709,"u"],["PJM166",1709,709,"u"],["PJM167",1663,734,"u"],["PJM164",1662,759,"u"],["PJM163",1662,785,"u"],["PJM162",1616,794,"u"],["PJM130",1575,766,"t"],["PJM129",1594,817,"t"],["PJM170b",1791,689,"d"],["PJM172",1753,748,"d"],["PJM171",1741,791,"d"]],"0-1,0-2,1-2,1-3,1-5,1-4,2-3,3-5,3-6,3-4,4-5,4-6,5-6,6-7,6-8,7-8,3-8,8-9,9-10,8-10,7-10,4-11,4-13r,6-12,7-12,11-12"],
["R",[["KRC653",1555,287],["KRC654",1626,288],["KRC655",1592,312]],"0-2r,1-2r"],
["R",[["KRC2823",1654,336],["PJM100",1601,354,"t"],["PJM98",1628,378,"t"],["KRC2715",1578,396]],"0-1,1-2,2-3"],
["R",[["KRC935",1545,432],["KRC889",1613,477]],"0-1"],
["R",[["KRC2198",1547,508],["KRC2095",1620,508],["KRC2197",1557,531],["KRC2094",1627,531],["KRC2348",1625,553]],"0-1,0-2,2-3,1-3,2-4r,3-4r"],
["D",[["PJM144",160,13,"t"]],""],
["D",[["KRC969",305,23],["KRC975",435,28]],"0-1r"],
["D",[["KRC2741",710,16],["PJM99",840,21,"t"]],"0-1r"],
["D",[["KRC704",1000,31],["KRC707",1110,36]],"0-1r"],
["D",[["KRC670",1290,31],["KRC954",1410,36]],"0-1r"],
["D",[["KRC131",210,53],["KRC675",330,58]],"0-1"],
["D",[["KRC427",595,46],["KRC601",720,51]],"0-1"],
["D",[["BBT751",890,61],["BBT752",1010,67]],"0-1"],
["D",[["BBT625",1195,61],["BBT629",1320,67]],"0-1r"],
["D",[["KRC2271",100,84],["KRC2363",250,89]],"0-1"],
["D",[["KRC2457",510,76],["KRC2546",630,81]],"0-1"],
["D",[["KRC2155",785,92],["KRC2234",905,97]],"0-1"],
["D",[["KRC2147",1095,92],["KRC2236",1220,97]],"0-1"],
["D",[["KRC4797",1380,92],["PJM141",1505,97,"t"]],"0-1"],
["D",[["KRC1943",420,106],["KRC1944",540,112]],"0-1"],
["D",[["KRC1636",-10,116],["KRC1874",130,120]],"0-1"],
["D",[["KRC1679",700,122],["KRC1680",820,127]],"0-1"],
["D",[["KRC1642",990,122],["KRC2380",1110,127]],"0-1"],
["D",[["KRC489",1250,122],["KRC516",1385,127]],"0-1"],
["D",[["KRC1476",290,137],["KRC1768",395,143]],"0-1"],
["D",[["KRC1583",70,146],["KRC2182",165,163],["KRC2577",155,181]],"0-1,1-2"],
["D",[["KRC1428",580,153],["KRC1430",715,158]],"0-1"],
["D",[["KRC1427",860,153],["KRC1090",990,158]],"0-1"],
["D",[["KRC4321",1180,152],["KRC4323",1310,157]],"0-1r"],
["D",[["KRC38",375,176],["KRC160",505,177],["KRC553",440,195]],"0-2,1-2r"],
["D",[["KRC548",295,203],["KRC36",250,224],["KRC172",390,222],["KRC178",345,242]],"0-1,0-2r,0-3,1-3,2-3"],
["D",[["KRC2495",710,186],["KRC2496",890,186],["PJM92",820,203,"t"]],"0-2,1-2"],
["D",[["KRC2266",1150,183],["KRC2547",1280,188]],"0-1"],
["D",[["BBT440",580,210],["BBT226",700,229],["BBT125",535,231],["BBT232",620,249]],"0-1,0-3,2-3,1-3r,2-0"],
["D",[["KRC1545",950,206],["KRC2290",1075,212]],"0-1"],
["D",[["KRC930",1305,213],["KRC652",1430,219]],"0-1r"],
["D",[["KRC1390",840,237],["KRC1406",970,241]],"0-1"],
["D",[["KRC2449",1120,236],["KRC2521",1265,242]],"0-1"],
["D",[["KRC1565",565,276],["KRC1501",590,293],["KRC1498",460,306],["KRC2126",490,326]],"0-1,1-2,2-3"],
["D",[["KRC1518",805,261],["KRC1519",870,279],["KRC2341",880,296]],"0-1r,1-2"],
["D",[["KRC1940",1030,267],["KRC1941",1160,272]],"0-1"],
["D",[["KRC968",1315,274],["KRC974",1435,280]],"0-1r"],
["D",[["KRC3027",350,271],["PJM105",225,287,"t"],["PJM103",285,304,"t"],["KRC2930",165,318]],"0-2,1-2,2-3"],
["D",[["KRC1618",660,322],["KRC2076",760,340],["KRC2069",840,322]],"0-1,1-2r"],
["D",[["KRC1921",1050,298],["KRC2455",1175,303]],"0-1r"],
["D",[["KRC951",1320,306],["KRC952",1440,311]],"0-1"],
["D",[["KRC1833",1045,328],["KRC2555",1165,333]],"0-1r"],
["D",[["KRC615",1320,336],["KRC689",1440,341]],"0-1r"],
["D",[["KRC2556",280,332],["KRC883",445,357],["KRC888",235,380],["KRC887",380,388],["KRC2357",630,364],["KRC882",440,407],["KRC881",580,404],["KRC906",210,442],["KRC905",395,448],["KRC899",400,470],["KRC900",580,464]],"0-3r,0-7,1-3r,1-2r,1-4r,1-5r,1-6r,2-3,2-6r,2-7,3-5,3-8,4-6,4-5r,5-8,6-10,7-8,7-9r,8-9,9-10r,2-5"],
["D",[["KRC1475",920,358],["KRC1767",1040,363]],"0-1"],
["D",[["KRC130",1190,366],["KRC413",1335,372]],"0-1"],
["D",[["KRC371",735,400],["KRC411",735,416],["KRC388",830,382]],"0-1,0-2r"],
["D",[["KRC1621",920,389],["KRC1846",1050,394]],"0-1"],
["D",[["KRC1132",1310,396],["PJM56",1430,402,"t"]],"0-1"],
["D",[["KRC1438",895,419],["KRC1447",1010,424]],"0-1"],
["D",[["BBT546",1170,419],["BBT547",1295,424]],"0-1"],
["D",[["KRC1635",685,443],["KRC2213",770,461],["KRC2053",860,445]],"0-1,1-2"],
["D",[["KRC2259",1100,449],["KRC2261",1235,454]],"0-1r"],
["D",[["KRC1544",925,471],["KRC2368",1055,476]],"0-1r"],
["D",[["KRC426",1205,480],["KRC600",1340,485]],"0-1"],
["D",[["KRC1063",640,495],["KRC1064",750,499]],"0-1"],
["D",[["KRC1470",920,502],["KRC2017",1040,507]],"0-1"],
["D",[["KRC126",1200,510],["KRC604",1335,516]],"0-1"],
["D",[["KRC294",625,526],["KRC323",720,545],["KRC322",820,528]],"0-1r,1-2r"],
["D",[["KRC1626",980,533],["KRC2120",1110,538]],"0-1"],
["D",[["KRC928",1315,540],["KRC930",1445,545]],"0-1r"],
["D",[["KRC2254",565,553],["KRC1558",520,573],["KRC1596",670,573],["KRC2111",620,591]],"0-1,0-3,0-2,2-3"],
["D",[["KRC1419",870,565],["KRC1450",1000,570]],"0-1r"],
["D",[["KRC4320",1160,563],["KRC4322",1290,569]],"0-1r"],
["D",[["KRC1103",820,593],["KRC1104",950,598]],"0-1"],
["D",[["KRC2255",1110,593],["KRC2256",1240,598]],"0-1"],
["D",[["KRC1500",765,618],["KRC1503",840,635],["KRC2247",840,652]],"0-1,1-2"],
["D",[["KRC1914",1010,625],["KRC1932",1150,630]],"0-1"],
["D",[["KRC925",1310,630],["KRC926",1440,636]],"0-1r"],
["D",[["KRC2367",140,593],["KRC1828",300,593],["KRC1766",150,610],["KRC1834",165,630]],"0-1r,0-2,2-3"],
["D",[["KRC1064",340,618],["KRC1003",530,620],["KRC381",345,646],["KRC377",505,648],["KRC937",535,664],["KRC382",705,677],["KRC378",220,696],["KRC380",390,689],["KRC641",565,709],["KRC640",230,718],["KRC643",365,719],["BBT606",80,736],["PJM43",715,641,"t"],["KRC1395",170,666]],"0-2r,1-3r,2-3,3-4,3-7,2-7r,2-6r,4-7,5-8r,6-7r,7-10r,6-9r,6-11r,3-12r,13-7r,7-8,0-1"],
["D",[["KRC1900",1020,655],["KRC2064",1135,660]],"0-1"],
["D",[["KRC916",1310,663],["KRC918",1440,668]],"0-1r"],
["D",[["KRC1293",845,678],["KRC1294",970,684]],"0-1"],
["D",[["KRC2448",1110,686],["KRC2476",1245,691]],"0-1"],
["D",[["KRC1065",770,708],["KRC1066",895,714]],"0-1"],
["D",[["KRC1908",1020,716],["KRC1934",1155,721]],"0-1"],
["D",[["KRC911",1315,723],["KRC921",1440,728]],"0-1"],
["D",[["KRC2313",290,749],["KRC2122",295,767],["KRC1923",540,744],["KRC1099",440,763]],"0-1,1-3r,2-3"],
["D",[["KRC2439",725,740],["KRC2441",875,741],["KRC2444",805,759]],"0-2,1-2"],
["D",[["KRC612",1300,753],["KRC4462",1445,759]],"0-1"],
["D",[["BBT732",570,768],["BBT722",525,786],["BBT723",700,786],["BBT731",630,804]],"0-1,0-2,0-3,1-3"],
["D",[["KRC1268",840,784],["KRC1269",960,789]],"0-1"],
["D",[["KRC1820",1010,761],["KRC1845",1125,766]],"0-1"],
["D",[["KRC581",1290,784],["KRC690",1420,790]],"0-1"],
["D",[["PJM4",160,771,"t"],["PJM50b",165,810,"t"]],"0-1"],
["C",[["PJM49",1450,780,"t"]],""],
["D",[["KRC1464",770,807],["KRC1485",850,826],["KRC1486",850,843]],"0-1,1-2"],
["D",[["KRC2434",1085,807],["KRC2435",1210,812]],"0-1"],
["D",[["KRC280",310,812],["KRC2021",490,810],["KRC59",300,829],["KRC55",200,838],["KRC2022",490,830],["KRC269",335,858]],"0-3,2-3,0-5,2-5,1-4,3-5r,4-5r,1-0r"],
["D",[["KRC1904",970,837],["KRC1942",1085,842]],"0-1"],
["D",[["KRC907",1285,861],["KRC920",1420,866]],"0-1"],
["D",[["KRC1541",950,868],["KRC2504",1080,872]],"0-1"],
["D",[["KRC425",1240,890],["KRC599",1360,896]],"0-1r"],
["R",[["KRC1040",1600,1207],["KRC1048",1653,1214]],"0-1"],
["R",[["KRC111",1489,1295],["KRC110",1607,1266],["KRC3",1582,1379],["KRC114",1726,1220],["KRC879",1778,1233],["KRC886",1898,1204],["KRC94",1952,1232],["KRC243",2024,1256],["KRC13",2174,1276],["KRC212",1647,1290],["KRC119",1739,1300],["KRC284",1886,1288],["KRC15",2063,1291],["KRC287",1798,1312],["KRC904",1848,1315],["KRC890",1928,1316],["KRC93",1982,1327],["KRC115",1691,1324],["KRC897",1811,1339],["KRC885",1888,1341],["KRC113",1731,1348],["KRC892",1933,1366],["KRC106",2091,1374],["KRC880",1789,1375],["KRC12",1703,1411],["KRC11",1864,1414],["KRC96",1961,1410],["KRC97",1811,1431],["KRC116",1692,1461],["KRC903",1864,1467],["KRC91",1963,1457],["KRC898",1804,1487]],
 "0-1r,0-9r,0-2,3-5,3-4r,3-1r,3-17,3-20,3-10r,3-23r,4-6,4-9r,4-17r,4-23,4-18,4-31,4-13r,5-6r,5-7r,5-11r,5-19,5-14,5-16r,6-7r,6-15r,6-21,6-16,6-20r,6-14r,7-8r,7-12r,7-11r,7-22r,8-12r,8-22,1-2,1-10r,1-23r,9-2r,9-19r,9-23r,10-11,10-20,10-27r,10-18r,11-15r,11-19,11-25,11-26r,11-24r,12-15r,12-22,12-21r,17-2r,17-14,17-18r,17-24r,17-28,17-23r,14-15,14-25r,14-29,14-16r,15-16r,15-26,15-30,15-25r,16-20,16-22r,16-30r,16-21r,18-19,18-31r,18-27,19-21r,19-29,19-30r,19-20,20-24,20-28,20-31r,21-23,21-29r,21-30,22-26r,22-30r,2-24r,2-28r,23-28r,23-24r,24-25,24-27r,24-28,25-26r,25-29,26-27,26-30,27-31,28-29,28-31r,29-30r,31-30"],
["R",[["BBT539",2069,1416],["KRC4190",2120,1424]],"0-1"],
["R",[["KRC2145",2030,1458],["KRC2194",2085,1466]],"0-1"],
["R",[["KRC1093",1925,1490],["KRC1094",1978,1497]],"0-1"],
["R",[["KRC2235",2042,1500],["KRC2282",2095,1508]],"0-1"],
["R",[["KRC3669",2155,1386],["PJM42",2210,1395,"t"]],"0-1"],
["R",[["KRC4299",2150,1469],["PJM140",2205,1477,"t"]],"0-1"],
["R",[["KRC857",2153,1512],["PJM41",2208,1520,"t"]],"0-1"],
["D",[["KRC1985",280,1085],["KRC1981",80,1105],["KRC1982",290,1104],["KRC1960",55,1122],["KRC1978",150,1139],["KRC1957",-15,1148]],"0-1r,1-3r,1-4,2-4r,3-4,3-5r,4-5r"],
["D",[["KRC1952",580,1110],["KRC1556",515,1127],["KRC1573",670,1130],["KRC1890",640,1148]],"0-1,0-3,2-3"],
["D",[["KRC705",760,1105],["KRC709",830,1123],["KRC713",835,1140]],"0-1r,1-2"],
["D",[["KRC1919",975,1120],["KRC1850",1100,1125]],"0-1"],
["D",[["KRC567",1280,1127],["KRC568",1410,1133]],"0-1r"],
["D",[["KRC1809",975,1150],["KRC1817",1100,1156]],"0-1"],
["D",[["KRC556",1290,1158],["KRC563",1400,1164]],"0-1r"],
["D",[["KRC1994",305,1150],["KRC2446",475,1153],["KRC2045",460,1172],["KRC2024",160,1183],["KRC1995",370,1195],["KRC2023",190,1200]],"0-2,0-4,0-1r,1-2,2-4,3-0r,5-4r,1-4r"],
["D",[["BBT806",625,1182],["BBT880",820,1184],["BBT881",715,1200]],"0-2r,1-2"],
["D",[["KRC1615",975,1180],["KRC1729",1095,1186]],"0-1"],
["D",[["KRC488",1250,1188],["KRC515",1385,1193]],"0-1"],
["D",[["PJM119",370,1222,"t"],["KRC3628",520,1208],["PJM114",450,1240,"t"],["KRC3397",330,1253]],"0-1,0-2,2-3"],
["C",[["KRC3607",1525,1205],["PJM116",1470,1238,"t"],["PJM94",1520,1254,"t"],["KRC2636",1470,1270]],"0-2,1-2,1-3,0-1"],
["D",[["KRC1411",865,1211],["KRC2063",1005,1216]],"0-1"],
["D",[["KRC4274",1140,1219],["KRC4275",1295,1224]],"0-1"],
["D",[["KRC2438",710,1243],["KRC2440",800,1243],["KRC2443",760,1262]],"0-2,1-2"],
["D",[["KRC2118",1045,1249],["KRC2169",1175,1254]],"0-1"],
["D",[["KRC2712",1360,1257],["PJM97",1470,1262,"t"]],"0-1"],
["D",[["KRC1453",490,1264],["KRC1454",665,1264],["KRC2049",570,1282],["KRC1976",590,1299]],"0-2,1-2,2-3"],
["D",[["BBT623",110,1285],["BBT628",240,1285],["KRC927",175,1304],["KRC432",255,1323]],"0-2r,1-2r,2-3"],
["D",[["KRC1607",955,1279],["KRC1621",1090,1285]],"0-1"],
["D",[["KRC487",1275,1287],["KRC510",1390,1293]],"0-1"],
["D",[["KRC37",700,1304],["KRC170",865,1304],["KRC552",770,1322]],"0-2,1-2"],
["C",[["PJM76",1370,1310,"t"],["KRC1509",1515,1310],["KRC1508",1390,1330],["KRC1655",1550,1330]],"0-1,1-2,1-3"],
["D",[["KRC1535",965,1325],["KRC1600",1100,1330]],"0-1"],
["D",[["KRC390",1240,1318],["KRC458",1365,1323]],"0-1r"],
["D",[["KRC1543",405,1327],["KRC2185",610,1328],["KRC2491",525,1345]],"0-2,1-2"],
["D",[["KRC26",205,1349],["KRC439",325,1350],["KRC821",260,1368]],"0-2,1-2r"],
["D",[["KRC4451",695,1350],["KRC4458",855,1350],["KRC4459",780,1367]],"0-2r,1-2r"],
["C",[["KRC1847",1330,1357],["KRC1848",1475,1375],["PJM83",1475,1393,"t"]],"0-1,1-2"],
["D",[["KRC1072",455,1370],["KRC1223",585,1376]],"0-1"],
["D",[["KRC1534",965,1370],["KRC1554",1090,1376]],"0-1"],
["D",[["KRC372",1240,1348],["KRC412",1380,1353]],"0-1"],
["D",[["KRC370",1240,1378],["KRC410",1375,1383]],"0-1"],
["D",[["KRC1210",160,1393],["KRC1211",290,1398]],"0-1"],
["D",[["KRC1240",710,1393],["KRC1241",845,1398]],"0-1"],
["D",[["KRC1796",990,1400],["KRC2231",1135,1405]],"0-1"],
["C",[["KRC1467",1330,1418],["KRC1760",1470,1422]],"0-1"],
["D",[["KRC1516",100,1423],["KRC1524",230,1428]],"0-1"],
["D",[["KRC1468",470,1416],["KRC1761",600,1420]],"0-1"],
["D",[["KRC1523",710,1423],["KRC3588",845,1428]],"0-1"],
["D",[["KRC531",1290,1422],["KRC532",1415,1428]],"0-1r"],
["D",[["KRC1802",460,1446],["KRC2260",580,1451]],"0-1"],
["D",[["KRC2110",715,1453],["KRC2288",850,1459]],"0-1"],
["D",[["KRC1894",1045,1445],["KRC1003",1165,1450]],"0-1"],
["D",[["KRC2109",55,1455],["KRC2146",160,1460]],"0-1"],
["D",[["KRC2426",300,1476],["KRC2429",420,1482]],"0-1"],
["D",[["KRC4210",580,1484],["KRC4211",695,1489]],"0-1r"],
["D",[["KRC2432",1045,1477],["KRC2433",1160,1482]],"0-1"],
["D",[["KRC512",1275,1475],["KRC514",1410,1481]],"0-1"],
["D",[["KRC123",15,1500],["KRC469",145,1505]],"0-1"],
["D",[["KRC366",315,1508],["KRC939",435,1513]],"0-1"],
["D",[["KRC367",875,1506],["KRC368",990,1512]],"0-1"],
["D",[["KRC369",1165,1506],["KRC409",1270,1512]],"0-1"],
["D",[["KRC692",160,1530],["KRC932",265,1535]],"0-1"],
["D",[["KRC693",595,1528],["KRC929",725,1534]],"0-1"],
["D",[["KRC392",465,1553],["PJM29",560,1558,"t"]],"0-1"],
["D",[["KRC2550",880,1540],["PJM93",1020,1545,"t"]],"0-1r"],
["D",[["KRC2304",1195,1539],["PJM96",1325,1544,"t"]],"0-1"]
];

// cross-group links: [from, to, colour] (resolved to the first node with that key)
const links = [
["KRC4463","KRC4464","r"],["KRC1159","KRC1163","r"],["KRC4461","KRC1163","r"],["KRC1163","KRC1164","k"],
["KRC1051","KRC1166","k"],["KRC1051","KRC1052","k"],["KRC1164","KRC1052","k"],["KRC1166","KRC1045","r"],
["KRC1165","KRC1052","k"],["KRC1052","KRC913","k"],["KRC1051","KRC1164","k"],
["PJM122","KRC3063","k"],["KRC3829","PJM126","k"],["KRC3681","PJM121","k"],
["KRC5","KRC317","r"],["KRC317","KRC318","r"],["KRC318","KRC311","k"],["KRC57","KRC61","k"],
["KRC29","KRC464","k"],["KRC29","KRC159","k"],
["KRC889","KRC888","r"],["KRC3955","KRC889","k"],["KRC1008","PJM168","k"],["PJM165","PJM130","k"],["KRC3954","PJM130","k"],
["PJM4","BBT137","r"],["PJM49","PJM4","k"],["PJM49","KRC1043","r"],["PJM50b","KRC1046","r"],["PJM49","BBT137","k"],
["KRC1001","KRC983","r"],["KRC1000","KRC983","r"],["KRC1007","KRC983","r"],["KRC1381","KRC1000","r"],
["BBT201","KRC1395","r"],
["KRC1044","KRC110","k"],["KRC1040","KRC110","k"],["KRC1042","KRC111","r"],
["KRC906","PJM105","k"],
["KRC1047","KRC1054","r"]
];

// ---------- rendering ----------
const NS = "http://www.w3.org/2000/svg";
const FILL = {c:"#fdf9e1", t:"#a9d7d6", u:"#8b90d9", d:"#3f2c30"};
const EDGE = {k:"#4a4a4a", r:"#c9506b"};
const pos = {};
const nodeList = [];
function toReal(sys, x, y){ const s = SYS[sys]; return [s[0] + x / s[1], y / s[2]]; }

groups.forEach(g => {
  const sys = g[0];
  g.pts = g[1].map(n => {
    const p = toReal(sys, n[1], n[2]);
    if (!pos[n[0]]) pos[n[0]] = p;
    nodeList.push([n[0], p[0], p[1], n[3] || "c"]);
    return p;
  });
});

const edgeLayer = document.getElementById("edges");
const nodeLayer = document.getElementById("nodes");

function addEdge(pa, pb, col, name){
  if (!pa || !pb) return;
  const ln = document.createElementNS(NS, "line");
  ln.setAttribute("x1", pa[0].toFixed(1)); ln.setAttribute("y1", pa[1].toFixed(1));
  ln.setAttribute("x2", pb[0].toFixed(1)); ln.setAttribute("y2", pb[1].toFixed(1));
  ln.setAttribute("stroke", EDGE[col] || EDGE.k);
  ln.setAttribute("stroke-width", "1.1");
  
  
  edgeLayer.appendChild(ln);
}

groups.forEach(g => {
  if (!g[2]) return;
  g[2].split(",").forEach(s => {
    const m = s.trim().match(/^(\d+)-(\d+)([rk]?)$/);
    if (!m) return;
    const i = +m[1], j = +m[2];
    if (!g[1][i] || !g[1][j]) return;
    addEdge(g.pts[i], g.pts[j], m[3] || "k", 'edge-' + g[1][i][0].toLowerCase() + '-' + g[1][j][0].toLowerCase());
  });
});
links.forEach(l => addEdge(pos[l[0]], pos[l[1]], l[2], 'edge-' + l[0].toLowerCase() + '-' + l[1].toLowerCase()));

nodeList.forEach(n => {
  const [key, x, y, t] = n;
  const label = key.replace(/[a-z]+$/, "");
  const rx = Math.max(18, label.length * 3.25 + 5);
  const g = document.createElementNS(NS, "g");
  
  
  const e = document.createElementNS(NS, "ellipse");
  e.setAttribute("cx", x.toFixed(1)); e.setAttribute("cy", y.toFixed(1));
  e.setAttribute("rx", rx.toFixed(1)); e.setAttribute("ry", "7.5");
  e.setAttribute("fill", FILL[t]); e.setAttribute("stroke", "#3a3a3a"); e.setAttribute("stroke-width", "0.8");
  
  
  const tx = document.createElementNS(NS, "text");
  tx.setAttribute("x", x.toFixed(1)); tx.setAttribute("y", (y + 3).toFixed(1));
  tx.setAttribute("text-anchor", "middle");
  if (t === "d") tx.setAttribute("style", "fill:#3f2c30");
  tx.textContent = label;
  
  
  g.appendChild(e); g.appendChild(tx);
  nodeLayer.appendChild(g);
});
</script>
</body>
</html>
